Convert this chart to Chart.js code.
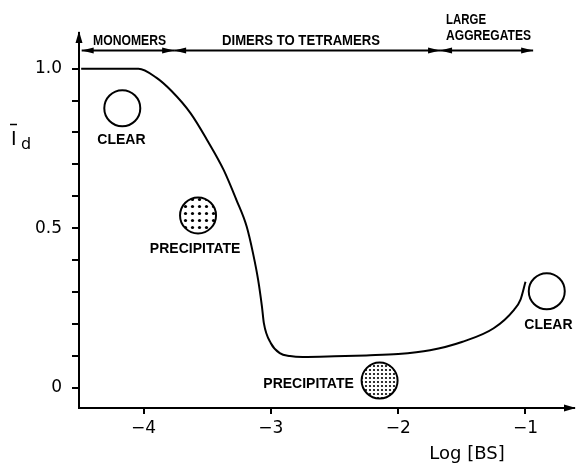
<!DOCTYPE html>
<html>
<head>
<meta charset="utf-8">
<script src="https://cdn.jsdelivr.net/npm/chart.js@4"></script>
<style>
  html, body { margin: 0; padding: 0; background: #fff; }
  canvas { display: block; }
</style>
</head>
<body>
<canvas id="myChart" width="576" height="464"></canvas>
<script>
// CURVE: fraction of dimer vs log of bile salt concentration
const logBS = [-4.49, -4.2, -4.04, -3.9, -3.78, -3.63, -3.5, -3.37, -3.27, -3.19, -3.14, -3.1, -3.07, -3.055,
  -3.0, -2.93, -2.85, -2.75, -2.5, -2.25, -2.0, -1.75, -1.5, -1.25, -1.09, -1.04, -1.0];
const fraction = [1.0, 1.0, 1.0, 0.972, 0.93, 0.86, 0.776, 0.682, 0.588, 0.505, 0.421, 0.338, 0.254, 0.202,
  0.139, 0.108, 0.099, 0.096, 0.098, 0.101, 0.105, 0.117, 0.143, 0.186, 0.244, 0.275, 0.332];

// TICKS
const xTickValues = [-4, -3, -2, -1];
const xTickLabels = ['\u22124', '\u22123', '\u22122', '\u22121'];
const yTickValues = [0, 0.1, 0.2, 0.3, 0.4, 0.5, 0.6, 0.7, 0.8, 0.9, 1.0];
const yTickLabels = ['0', '', '', '', '', '0.5', '', '', '', '', '1.0'];

// SOLUBILITY MARKERS
const markerNames = ['clear', 'precipitate', 'precipitate', 'clear'];
const markerX = [-4.167, -3.572, -2.146, -0.833];
const markerY = [0.876, 0.540, 0.022, 0.302];

const markerLabels = ['CLEAR', 'PRECIPITATE', 'PRECIPITATE', 'CLEAR'];
const markerLabelX = [-4.174, -3.595, -2.704, -0.82];
const markerLabelY = [0.775, 0.435, 0.012, 0.197];

// AGGREGATION REGIONS ALONG THE TOP
const regionBounds = [-4.486, -3.76, -1.671, -0.94];
const regionY = 1.057;
const regionLabels = ['MONOMERS', 'DIMERS TO TETRAMERS', 'LARGE', 'AGGREGATES'];
const regionLabelX = [-4.11, -2.763, -1.624, -1.624];
const regionLabelY = [1.085, 1.085, 1.152, 1.102];

function dotPattern(step, r) {
  const c = document.createElement('canvas');
  c.width = step; c.height = step;
  const g = c.getContext('2d');
  g.fillStyle = '#fff';
  g.fillRect(0, 0, step, step);
  g.fillStyle = '#000';
  g.beginPath();
  g.arc(step / 2, step / 2, r, 0, Math.PI * 2);
  g.fill();
  return g.createPattern(c, 'repeat');
}

const markerFills = ['#fff', dotPattern(7, 1.6), dotPattern(4, 1.1), '#fff'];

function arrowHead(ctx, x, y, dir, len, half) {
  // dir: 'left' | 'right' | 'up'
  ctx.beginPath();
  if (dir === 'up') {
    ctx.moveTo(x, y);
    ctx.lineTo(x - half, y + len);
    ctx.lineTo(x + half, y + len);
  } else {
    const s = dir === 'right' ? -1 : 1;
    ctx.moveTo(x, y);
    ctx.lineTo(x + s * len, y - half);
    ctx.lineTo(x + s * len, y + half);
  }
  ctx.closePath();
  ctx.fill();
}

const extras = {
  id: 'extras',
  afterDraw(chart) {
    const { ctx, chartArea, scales: { x, y } } = chart;
    ctx.save();
    ctx.fillStyle = '#000';
    ctx.strokeStyle = '#000';

    // axis arrows
    arrowHead(ctx, chartArea.left, chartArea.top - 2, 'up', 12, 3.5);
    arrowHead(ctx, chartArea.right + 2, chartArea.bottom, 'right', 12, 3.5);

    // region arrows
    const ry = y.getPixelForValue(regionY);
    ctx.lineWidth = 2;
    for (let i = 0; i < regionBounds.length - 1; i++) {
      const a = x.getPixelForValue(regionBounds[i]);
      const b = x.getPixelForValue(regionBounds[i + 1]);
      ctx.beginPath();
      ctx.moveTo(a, ry);
      ctx.lineTo(b, ry);
      ctx.stroke();
      arrowHead(ctx, a, ry, 'left', 12, 3);
      arrowHead(ctx, b, ry, 'right', 12, 3);
    }

    // region labels
    ctx.font = 'bold 14px "Liberation Sans", Arial, sans-serif';
    ctx.textBaseline = 'middle';
    const regionWidths = [73, 158, 40, 85];
    regionLabels.forEach((t, i) => {
      ctx.textAlign = i >= 2 ? 'left' : 'center';
      ctx.fillText(t, x.getPixelForValue(regionLabelX[i]), y.getPixelForValue(regionLabelY[i]), regionWidths[i]);
    });

    // marker labels
    ctx.textAlign = 'center';
    markerLabels.forEach((t, i) => {
      ctx.fillText(t, x.getPixelForValue(markerLabelX[i]), y.getPixelForValue(markerLabelY[i]), 94);
    });

    // x axis title
    ctx.font = '18px "DejaVu Sans", sans-serif';
    ctx.fillText('Log [BS]', 467, 454);

    // y axis title: I-bar with subscript d
    ctx.font = '19px "DejaVu Sans", sans-serif';
    ctx.textAlign = 'left';
    ctx.textBaseline = 'alphabetic';
    ctx.fillText('I', 11, 145);
    ctx.lineWidth = 1.5;
    ctx.beginPath();
    ctx.moveTo(10, 124.5);
    ctx.lineTo(17, 124.5);
    ctx.stroke();
    ctx.font = '16px "DejaVu Sans", sans-serif';
    ctx.fillText('d', 21, 149);

    ctx.restore();
  }
};

const ctx = document.getElementById('myChart');

new Chart(ctx, {
  type: 'scatter',
  data: {
    datasets: [
      {
        label: 'curve',
        data: logBS.map((v, i) => ({ x: v, y: fraction[i] })),
        showLine: true,
        borderColor: '#000',
        borderWidth: 2,
        pointRadius: 0,
        cubicInterpolationMode: 'monotone',
        order: 2
      },
      {
        label: 'markers',
        data: markerX.map((v, i) => ({ x: v, y: markerY[i], name: markerNames[i] })),
        pointStyle: 'circle',
        pointRadius: 18,
        borderColor: '#000',
        borderWidth: 2,
        backgroundColor: markerFills,
        order: 1,
        clip: false
      }
    ]
  },
  options: {
    responsive: false,
    animation: false,
    devicePixelRatio: 1,
    events: [],
    layout: { autoPadding: false, padding: { top: 33, right: 2, left: 0, bottom: 0 } },
    plugins: {
      legend: { display: false },
      tooltip: { enabled: false }
    },
    scales: {
      x: {
        type: 'linear',
        min: -4.507,
        max: -0.619,
        afterFit: s => { s.height = 56; },
        afterBuildTicks: s => { s.ticks = xTickValues.map(v => ({ value: v })); },
        border: { color: '#000', width: 2 },
        grid: { drawOnChartArea: false, color: '#000', lineWidth: 2, tickLength: 6 },
        ticks: {
          color: '#000',
          padding: 4,
          maxRotation: 0,
          font: { family: '"DejaVu Sans", sans-serif', size: 17 },
          callback: (v, i) => xTickLabels[i]
        }
      },
      y: {
        type: 'linear',
        min: -0.064,
        max: 1.112,
        afterFit: s => { s.width = 79; },
        afterBuildTicks: s => { s.ticks = yTickValues.map(v => ({ value: v })); },
        border: { color: '#000', width: 2 },
        grid: { drawOnChartArea: false, color: '#000', lineWidth: 2, tickLength: 7 },
        ticks: {
          color: '#000',
          padding: 10,
          font: { family: '"DejaVu Sans", sans-serif', size: 17 },
          callback: (v, i) => yTickLabels[i]
        }
      }
    }
  },
  plugins: [extras]
});
</script>
</body>
</html>
